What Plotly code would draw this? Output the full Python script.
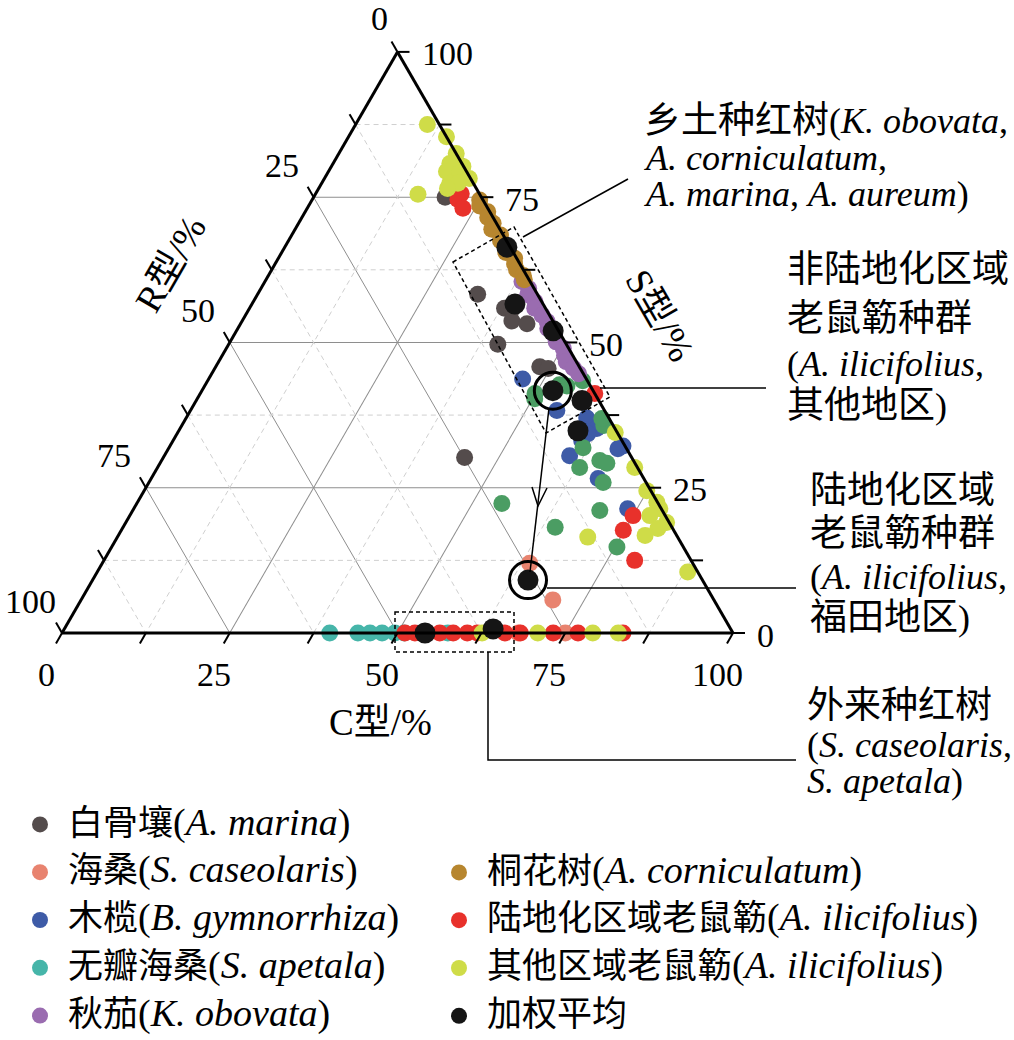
import math
import plotly.graph_objects as go

W, H = 1014, 1040
FONT = "Liberation Serif, Noto Sans CJK SC"

# ---------------- data (S, R, C in %) ----------------
marina_S = [80.5, 75.0, 58.3, 55.9, 55.7, 53.7, 53.2, 49.7, 45.8, 45.5, 30.2]
marina_R = [0.5, 5.4, 8.9, 6.1, 5.1, 6.1, 4.1, 10.2, 5.9, 4.8, 24.9]
marina_C = [19.0, 19.6, 32.8, 38.0, 39.2, 40.2, 42.7, 40.1, 48.3, 49.7, 44.9]

caseolaris_S = [12.0, 5.7, 0.0, 0.0]
caseolaris_R = [24.3, 24.0, 32.0, 25.0]
caseolaris_C = [63.7, 70.3, 68.0, 75.0]

gymno_S = [43.7, 38.3, 37.0, 35.2, 34.3, 33.1, 32.2, 31.7, 30.5, 26.6, 21.4]
gymno_R = [9.5, 7.1, 3.3, 2.7, 4.5, 6.0, 0.3, 1.3, 9.1, 6.8, 5.0]
gymno_C = [46.8, 54.6, 59.7, 62.1, 61.2, 60.9, 67.5, 67.0, 60.4, 66.6, 73.6]

apetala_S = [0.0, 0.0, 0.0, 0.0, 0.0, 0.0, 0.0]
apetala_R = [60.1, 55.9, 54.1, 52.3, 50.4, 49.0, 42.5]
apetala_C = [39.9, 44.1, 45.9, 47.7, 49.6, 51.0, 57.5]

obovata_S = [60.5, 59.3, 58.2, 57.0, 55.9, 54.7, 53.6, 52.4, 51.2, 50.1, 49.0, 47.8, 46.7, 45.6, 44.6]
obovata_R = [1.2, 0.8, 1.5, 1.0, 1.6, 1.1, 0.9, 1.4, 1.0, 1.3, 0.8, 1.2, 1.5, 1.0, 0.7]
obovata_C = [38.3, 39.9, 40.3, 42.0, 42.5, 44.2, 45.5, 46.2, 47.8, 48.6, 50.2, 51.0, 51.8, 53.4, 54.7]

cornic_S = [74.5, 73.5, 72.5, 71.5, 70.5, 69.5, 68.5, 67.5, 66.5, 65.5, 64.5, 63.5, 62.5, 61.5, 60.8]
cornic_R = [0.5, 1.0, 0.3, 0.8, 0.5, 1.2, 0.4, 0.9, 0.6, 1.1, 0.3, 0.8, 1.0, 0.5, 0.7]
cornic_C = [25.0, 25.5, 27.2, 27.7, 29.0, 29.3, 31.1, 31.6, 32.9, 33.4, 35.2, 35.7, 36.5, 38.0, 38.5]

other_S = [41.2, 42.5, 43.4, 35.7, 36.9, 31.9, 28.5, 29.7, 29.2, 25.9, 21.1, 18.2, 14.8, 22.3, 40.3, 42.7]
other_R = [8.9, 3.5, 0.7, 1.4, 1.1, 6.4, 8.6, 5.0, 4.2, 6.4, 9.3, 17.4, 9.9, 23.3, 9.4, 4.5]
other_C = [49.9, 54.0, 55.9, 62.9, 62.0, 61.7, 62.9, 65.3, 66.6, 67.7, 69.6, 64.4, 75.3, 54.4, 50.3, 52.8]

ilic_land_S = [75.6, 74.6, 73.1, 41.2, 20.2, 17.7, 12.5,
               0, 0, 0, 0, 0, 0, 0, 0, 0, 0, 0, 0]
ilic_land_R = [2.7, 3.7, 3.7, 0.0, 4.8, 7.5, 8.4,
               48.9, 47.4, 45.5, 43.7, 41.7, 39.6, 38.1, 34.0, 31.7, 26.8, 23.1, 16.4]
ilic_land_C = [21.7, 21.7, 23.2, 58.8, 75.0, 74.8, 79.1,
               51.1, 52.6, 54.5, 56.3, 58.3, 60.4, 61.9, 66.0, 68.3, 73.2, 76.9, 83.6]

ilic_other_S = [87.5, 85.4, 82.5, 80.3, 80.8, 79.4, 79.1, 78.2, 77.4, 77.4, 76.5, 75.5,
                34.5, 28.5, 24.5, 22.5, 21.4, 20.2, 19.0, 18.0, 16.8, 16.5, 10.5,
                0, 0, 0, 0]
ilic_other_R = [1.8, 0.0, 0.0, 0.1, 1.8, 3.0, 1.2, 0.2, 3.5, 2.3, 4.3, 9.2,
                0.3, 0.4, 0.6, 0.1, 0.2, 2.3, 0.4, 2.2, 4.7, 13.4, 1.5,
                37.4, 29.1, 20.9, 17.1]
ilic_other_C = [10.7, 14.6, 17.5, 19.6, 17.4, 17.6, 19.7, 21.6, 19.1, 20.3, 19.2, 15.3,
                65.2, 71.1, 74.9, 77.4, 78.4, 77.5, 80.6, 79.8, 78.5, 70.1, 88.0,
                62.6, 70.9, 79.1, 82.9]

mean_S = [66.4, 56.6, 52.0, 41.7, 40.0, 34.8, 9.1, 0.0, 0.7]
mean_R = [0.5, 4.2, 0.8, 6.0, 2.5, 5.7, 26.0, 45.9, 35.4]
mean_C = [33.1, 39.2, 47.2, 52.3, 57.5, 59.5, 64.9, 54.1, 63.9]
highlighted = [3, 6]   # circled weighted means

major_ticks = [0, 25, 50, 75, 100]
minor_ticks = [12.5, 37.5, 62.5, 87.5]
all_ticks = [0, 12.5, 25, 37.5, 50, 62.5, 75, 87.5, 100]

# ---------------- geometry helpers ----------------
TRI_L, TRI_R, TRI_B = 62.0, 733.0, 633.0
SIDE = TRI_R - TRI_L
TRI_H = SIDE * math.sqrt(3) / 2
TRI_T = TRI_B - TRI_H
TOP = ((TRI_L + TRI_R) / 2, TRI_T)
BLV = (TRI_L, TRI_B)
BRV = (TRI_R, TRI_B)


def tpx(s, r, c):
    t = s + r + c
    return ((s * TOP[0] + r * BLV[0] + c * BRV[0]) / t,
            (s * TOP[1] + r * BLV[1] + c * BRV[1]) / t)


def px2p(x, y):
    return x / W, 1 - y / H


def sz(s, size):
    return f"<span style='font-size:{size}px'>{s}</span>"


fig = go.Figure()

# minor dashed grid
ga, gb, gc = [], [], []
for v in minor_ticks:
    ga += [v, v, None, 100 - v, 0, None, 100 - v, 0, None]
    gb += [100 - v, 0, None, v, v, None, 0, 100 - v, None]
    gc += [0, 100 - v, None, 0, 100 - v, None, v, v, None]
fig.add_trace(go.Scatterternary(a=ga, b=gb, c=gc, mode="lines", showlegend=False,
                                hoverinfo="skip",
                                line=dict(color="#cfcfcf", width=1, dash="5px,4px")))


def series(name, S, R, C, color, size, legend, show=True):
    fig.add_trace(go.Scatterternary(
        a=S, b=R, c=C, mode="markers", name=name, legend=legend, legendgroup=name,
        showlegend=show, cliponaxis=False,
        marker=dict(color=color, size=size, opacity=1, line=dict(width=0))))


MS = 17
LC, LL = 35, 38  # legend CJK / latin sizes


def lname(cn, la=None):
    s = sz(cn, LC)
    if la:
        s += sz(f"(<i>{la}</i>)", LL)
    return s


series(lname("白骨壤", "A. marina"), marina_S, marina_R, marina_C, "#544c4c", MS, "legend")
series(lname("海桑", "S. caseolaris"), caseolaris_S, caseolaris_R, caseolaris_C, "#e8836f", MS, "legend")
series(lname("木榄", "B. gymnorrhiza"), gymno_S, gymno_R, gymno_C, "#3e5ba7", MS, "legend")
series("其他", other_S, other_R, other_C, "#4b9d63", MS, "legend", show=False)
series(lname("无瓣海桑", "S. apetala"), apetala_S, apetala_R, apetala_C, "#46b5a9", MS, "legend")
series(lname("秋茄", "K. obovata"), obovata_S, obovata_R, obovata_C, "#9a6cb0", MS, "legend")
series(lname("桐花树", "A. corniculatum"), cornic_S, cornic_R, cornic_C, "#b7862f", MS, "legend2")
series(lname("陆地化区域老鼠簕", "A. ilicifolius"), ilic_land_S, ilic_land_R, ilic_land_C, "#e8312b", MS, "legend2")
series(lname("其他区域老鼠簕", "A. ilicifolius"), ilic_other_S, ilic_other_R, ilic_other_C, "#cfdc48", MS, "legend2")
series(lname("加权平均"), mean_S, mean_R, mean_C, "#151515", 21, "legend2")

fig.add_trace(go.Scatterternary(
    a=[mean_S[i] for i in highlighted], b=[mean_R[i] for i in highlighted],
    c=[mean_C[i] for i in highlighted], mode="markers", showlegend=False, hoverinfo="skip",
    cliponaxis=False,
    marker=dict(symbol="circle-open", size=37, color="black", line=dict(width=3, color="black"))))

axis_common = dict(title=dict(text=""), showticklabels=False, ticks="", showgrid=True,
                   gridcolor="#8e8e8e", gridwidth=1, tickmode="linear", tick0=0, dtick=25,
                   showline=True, linecolor="black", linewidth=3, min=0)

dx0, dy0 = px2p(TRI_L, TRI_B)
dx1, dy1 = px2p(TRI_R, TRI_T)

shapes = []
annotations = []


def line(p0, p1, width=2, dash=None):
    a = px2p(*p0)
    b = px2p(*p1)
    d = dict(type="line", xref="paper", yref="paper", x0=a[0], y0=a[1], x1=b[0], y1=b[1],
             line=dict(color="black", width=width))
    if dash:
        d["line"]["dash"] = dash
    shapes.append(d)


def path(points, close=False, width=1.5, dash=None):
    pts = [px2p(*p) for p in points]
    s = "M " + " L ".join(f"{x:.5f},{y:.5f}" for x, y in pts)
    if close:
        s += " Z"
    d = dict(type="path", xref="paper", yref="paper", path=s,
             line=dict(color="black", width=width))
    if dash:
        d["line"]["dash"] = dash
    shapes.append(d)


def text(x, y, t, size=34, xanchor="center", yanchor="middle", angle=0):
    px, py = px2p(x, y)
    annotations.append(dict(x=px, y=py, xref="paper", yref="paper", text=t, showarrow=False,
                            xanchor=xanchor, yanchor=yanchor, textangle=angle,
                            font=dict(family=FONT, size=size, color="black")))


TL = 12
dl = (-0.5, -math.sqrt(3) / 2)
db = (-0.5, math.sqrt(3) / 2)
dr = (1.0, 0.0)
for v in all_ticks:
    p = tpx(100 - v, v, 0)          # left edge (R)
    line(p, (p[0] + dl[0] * TL, p[1] + dl[1] * TL))
    p = tpx(0, 100 - v, v)          # bottom edge (C)
    line(p, (p[0] + db[0] * TL, p[1] + db[1] * TL))
    p = tpx(v, 0, 100 - v)          # right edge (S)
    line(p, (p[0] + dr[0] * TL, p[1] + dr[1] * TL))

TS = 34
for v in major_ticks:
    p = tpx(100 - v, v, 0)
    off = (-18, -33) if v == 0 else (-32, -32)
    text(p[0] + off[0], p[1] + off[1], f"{v}", size=TS)
    p = tpx(0, 100 - v, v)
    text(p[0] - 16, p[1] + 41, f"{v}", size=TS)
    p = tpx(v, 0, 100 - v)
    text(p[0] + 22, p[1] + 2, f"{v}", size=TS, xanchor="left")

text(170, 264, "R型/%", size=37, angle=-60)
text(660, 315, "S型/%", size=37, angle=60)
text(380, 722, "C型/%", size=37)

# dashed boxes
path([(453, 262), (514, 227), (610, 397), (546, 433)], close=True, width=1.5, dash="4px,3px")
path([(395, 612), (514, 612), (514, 652), (395, 652)], close=True, width=1.5, dash="4px,3px")

# callouts
line((523, 237), (628, 179), width=1.5)
line((600, 388), (766, 388), width=1.5)
line((547, 588), (796, 588), width=1.5)
path([(488, 652), (488, 760), (796, 760)], width=1.5)

# arrow between the circled means
line((549, 408), (530, 572), width=1.5)
path([(532, 487), (538, 506), (547, 488)], width=1.5)

# right-hand labels
AS, AL = 37, 36
text(642, 120, "乡土种红树" + sz("(<i>K. obovata</i>,", AL), size=AS, xanchor="left")
text(642, 158, sz("<i>A. corniculatum</i>,", AL), size=AS, xanchor="left")
text(642, 194, sz("<i>A. marina</i>, <i>A. aureum</i>)", AL), size=AS, xanchor="left")

for i, t in enumerate(["非陆地化区域", "老鼠簕种群", sz("(<i>A. ilicifolius</i>,", AL), "其他地区" + sz(")", AL)]):
    text(785, [270, 318, 364, 406][i], t, size=AS, xanchor="left")
for i, t in enumerate(["陆地化区域", "老鼠簕种群", sz("(<i>A. ilicifolius</i>,", AL), "福田地区" + sz(")", AL)]):
    text(808, [490, 533, 577, 617][i], t, size=AS, xanchor="left")
for i, t in enumerate(["外来种红树", sz("(<i>S. caseolaris</i>,", AL), sz("<i>S. apetala</i>)", AL)]):
    text(805, [705, 745, 781][i], t, size=AS, xanchor="left")

lx1 = px2p(12, 0)[0]
lx2 = px2p(431, 0)[0]
leg_common = dict(xanchor="left", yanchor="bottom", y=0, bgcolor="rgba(0,0,0,0)",
                  font=dict(family=FONT, size=26, color="black"), tracegroupgap=11,
                  itemwidth=46)

fig.update_layout(
    width=W, height=H, autosize=False, margin=dict(l=0, r=0, t=0, b=0),
    paper_bgcolor="white", plot_bgcolor="white",
    ternary=dict(sum=100, bgcolor="white",
                 domain=dict(x=[dx0, dx1], y=[dy0, dy1]),
                 aaxis=axis_common, baxis=axis_common, caxis=axis_common),
    legend=dict(x=lx1, **leg_common),
    legend2=dict(x=lx2, **leg_common),
    shapes=shapes, annotations=annotations,
)

fig.write_html("out.html")
